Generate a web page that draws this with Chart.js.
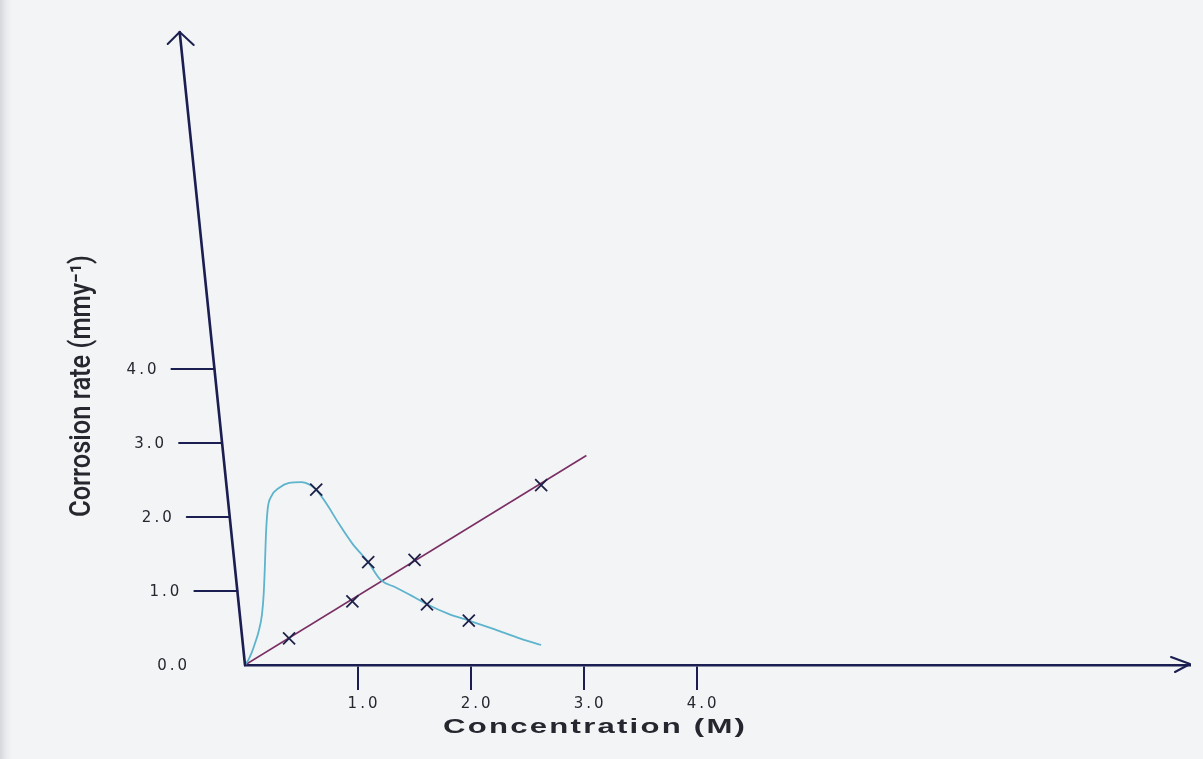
<!DOCTYPE html>
<html><head><meta charset="utf-8">
<script src="https://cdn.jsdelivr.net/npm/chart.js@4.4.1/dist/chart.umd.min.js"></script>
<style>
html,body{margin:0;padding:0;}
body{width:1203px;height:759px;overflow:hidden;background:linear-gradient(to right,#d6d7da 0px,#e9eaed 6px,#f3f4f6 12px,#f3f4f6 100%);}
canvas{display:block}
</style></head><body>
<canvas id="c" width="1203" height="759"></canvas>
<script>
// ---- data ----
const xTickValues = [1, 2, 3, 4];
const yTickValues = [0, 1, 2, 3, 4];
const xAxisTitle = 'Concentration (M)';
const yAxisTitle = 'Corrosion rate (mmy\u207B\u00B9)';

const lineX = [0, 3.02];
const lineY = [0, 2.83];
const lineMarkX = [0.39, 0.95, 1.50, 2.62];
const lineMarkY = [0.36, 0.86, 1.42, 2.43];

const curveX = [0, 0.03, 0.06, 0.09, 0.12, 0.15, 0.165, 0.175, 0.185, 0.20, 0.23, 0.30, 0.39, 0.50, 0.58, 0.63, 0.72, 0.83, 0.95, 1.09, 1.20, 1.33, 1.48, 1.61, 1.80, 1.98, 2.21, 2.41, 2.62];
const curveY = [0, 0.07, 0.17, 0.30, 0.45, 0.68, 0.95, 1.30, 1.75, 2.10, 2.27, 2.39, 2.46, 2.47, 2.43, 2.37, 2.18, 1.91, 1.64, 1.39, 1.15, 1.05, 0.93, 0.82, 0.69, 0.60, 0.48, 0.37, 0.27];
const curveMarkX = [0.63, 1.09, 1.61, 1.98];
const curveMarkY = [2.37, 1.39, 0.82, 0.60];

const pts = (xs, ys) => xs.map((x, i) => ({ x, y: ys[i] }));

const axisColor = '#1b1e50';
const textColor = '#26262f';
const markColor = '#1e2148';
const slope = 65 / 630;

const spacing = {
  id: 'spacing',
  beforeDraw(chart) { chart.ctx.letterSpacing = '3px'; },
};

const deco = {
  id: 'deco',
  afterDraw(chart) {
    const { ctx, chartArea: a, scales: { x, y } } = chart;
    const bx = a.left, by = a.bottom;
    const ax = py => bx - (by - py) * slope;
    ctx.save();
    ctx.strokeStyle = axisColor;
    ctx.lineCap = 'round';
    ctx.lineJoin = 'round';
    // slanted y axis
    ctx.lineWidth = 2.6;
    const topY = a.top - 3;
    ctx.beginPath(); ctx.moveTo(bx, by); ctx.lineTo(ax(topY), topY); ctx.stroke();
    const tx = ax(topY), ty = topY;
    ctx.lineWidth = 2;
    ctx.beginPath(); ctx.moveTo(tx - 12, ty + 12); ctx.lineTo(tx, ty); ctx.lineTo(tx + 14, ty + 13); ctx.stroke();
    // x arrow head
    const rx = a.right;
    ctx.beginPath(); ctx.moveTo(rx - 19, by - 8); ctx.lineTo(rx, by - 1); ctx.lineTo(rx - 15, by + 7); ctx.stroke();
    // y ticks and labels
    ctx.lineWidth = 2;
    ctx.letterSpacing = '3px';
    ctx.font = '15px "DejaVu Sans", "Liberation Sans", sans-serif';
    ctx.fillStyle = textColor;
    ctx.textAlign = 'right';
    ctx.textBaseline = 'middle';
    yTickValues.forEach(v => {
      const py = y.getPixelForValue(v);
      if (v > 0) {
        ctx.beginPath(); ctx.moveTo(ax(py) - 43, py); ctx.lineTo(ax(py), py); ctx.stroke();
      }
      ctx.fillText(v.toFixed(1), ax(py) - 55, py + 1);
    });
    // x title
    ctx.letterSpacing = '1.5px';
    ctx.font = 'bold 21px "Liberation Sans", Arial, sans-serif';
    ctx.textAlign = 'center';
    ctx.textBaseline = 'middle';
    const w1 = ctx.measureText(xAxisTitle).width;
    ctx.save();
    ctx.translate(x.getPixelForValue(3) + 11, by + 62);
    ctx.scale(304 / w1, 1);
    ctx.fillText(xAxisTitle, 0, 0);
    ctx.restore();
    // y title
    ctx.letterSpacing = '0px';
    ctx.font = '500 29px Roboto, "Liberation Sans", Arial, sans-serif';
    const w2 = ctx.measureText(yAxisTitle).width;
    ctx.save();
    ctx.translate(83, 386);
    ctx.rotate(-Math.PI / 2);
    ctx.scale(262 / w2, 1);
    ctx.fillText(yAxisTitle, 0, 0);
    ctx.restore();
    ctx.restore();
  }
};

new Chart(document.getElementById('c'), {
  type: 'scatter',
  data: {
    datasets: [
      { label: 'Linear', data: pts(lineX, lineY), showLine: true, borderColor: '#7a2f63', borderWidth: 1.6, pointRadius: 0, order: 3 },
      { label: 'Linear points', data: pts(lineMarkX, lineMarkY), showLine: false, pointStyle: 'crossRot', pointRadius: 8.5, borderColor: markColor, borderWidth: 1.8, backgroundColor: markColor, order: 1 },
      { label: 'Curve', data: pts(curveX, curveY), showLine: true, cubicInterpolationMode: 'monotone', borderColor: '#5db4cc', borderWidth: 1.8, pointRadius: 0, order: 2 },
      { label: 'Curve points', data: pts(curveMarkX, curveMarkY), showLine: false, pointStyle: 'crossRot', pointRadius: 8.5, borderColor: markColor, borderWidth: 1.8, backgroundColor: markColor, order: 0 }
    ]
  },
  options: {
    responsive: false,
    animation: false,
    devicePixelRatio: 1,
    layout: { padding: { left: 245, right: 13, top: 35, bottom: 44 } },
    plugins: { legend: { display: false }, tooltip: { enabled: false } },
    scales: {
      x: {
        type: 'linear', min: 0, max: 8.36,
        afterBuildTicks: s => { s.ticks = xTickValues.map(v => ({ value: v })); },
        afterFit: s => { s.height = 50; },
        grid: { display: true, drawOnChartArea: false, drawTicks: true, tickLength: 25, color: axisColor, lineWidth: 2 },
        border: { display: true, color: axisColor, width: 2.5 },
        ticks: { color: textColor, font: { family: '"DejaVu Sans", "Liberation Sans", sans-serif', size: 15 }, padding: 5, labelOffset: 6, maxRotation: 0, autoSkip: false, callback: v => Number(v).toFixed(1) },
        title: { display: false }
      },
      y: { type: 'linear', display: false, min: 0, max: 8.51 }
    }
  },
  plugins: [spacing, deco]
});
</script>
</body></html>
